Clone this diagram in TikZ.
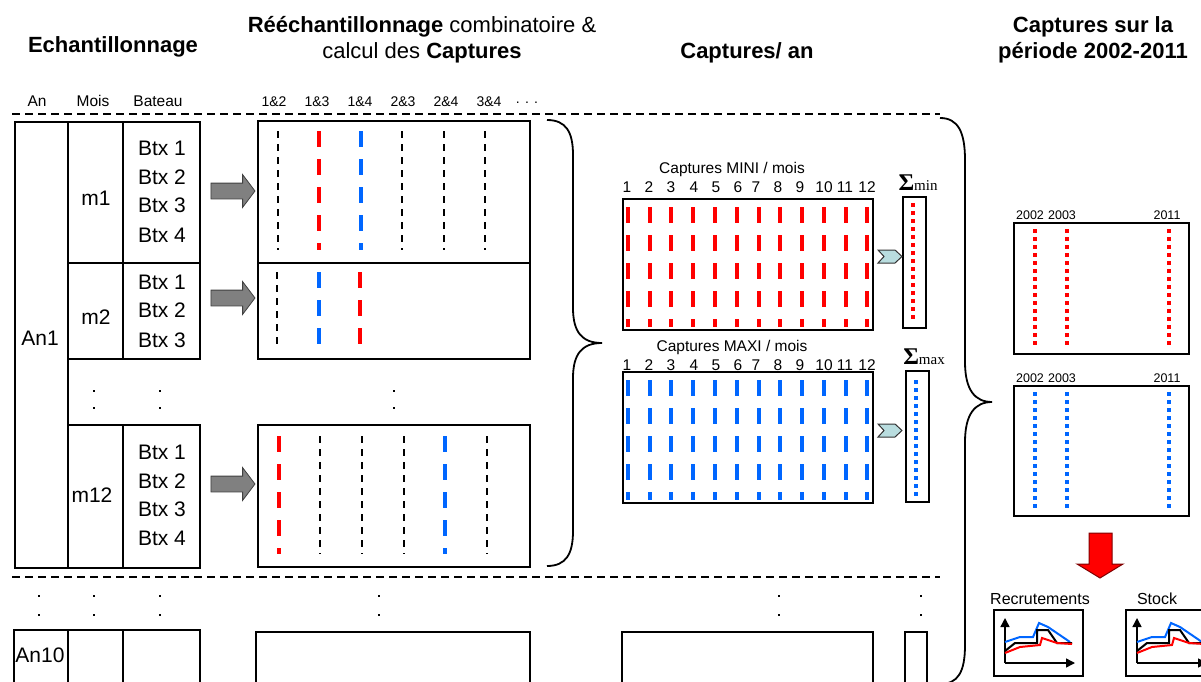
\documentclass[tikz,border=0pt]{standalone}
\usepackage{fontspec}
\setmainfont{Liberation Sans}
\newfontfamily\sigfont{Liberation Serif}
\usetikzlibrary{arrows.meta,shapes.arrows}
\definecolor{myred}{HTML}{FF0000}
\definecolor{myblue}{HTML}{0066FF}
\definecolor{arrgray}{HTML}{808080}
\definecolor{chevfill}{HTML}{B9DDDF}
\definecolor{darkred}{HTML}{7F0000}
\begin{document}
\begin{tikzpicture}[x=1pt,y=-1pt,
  box/.style={draw, line width=1.6pt, inner sep=0pt, anchor=north west},
  lbl/.style={inner sep=0pt, font=\fontsize{21}{21}\selectfont},
  title/.style={inner sep=0pt, align=center, font=\fontsize{22}{26}\selectfont},
  hdr/.style={inner sep=0pt, font=\fontsize{15.5}{15.5}\selectfont},
  combo/.style={inner sep=0pt, font=\fontsize{14}{14}\selectfont},
  small/.style={inner sep=0pt, font=\fontsize{15.5}{15.5}\selectfont},
  yr/.style={inner sep=0pt, font=\fontsize{12.5}{12.5}\selectfont},
  sepline/.style={line width=1.4pt, dash pattern=on 8pt off 5pt},
  kdash/.style={line width=1.4pt, dash pattern=on 7pt off 6pt},
  rdash/.style={line width=4pt, myred, dash pattern=on 16pt off 12pt},
  bdash/.style={line width=4pt, myblue, dash pattern=on 16pt off 12pt},
  rdot/.style={line width=4pt, myred, dash pattern=on 4pt off 4pt},
  bdot/.style={line width=4pt, myblue, dash pattern=on 4pt off 4pt},
  brace/.style={line width=1.8pt},
  grayarrow/.style={single arrow, draw=black!75, fill=arrgray, line width=0.8pt,
     minimum height=44pt, minimum width=32pt, inner sep=7.5pt,
     single arrow head extend=8.5pt, single arrow tip angle=106},
  chev/.style={draw=black!80, fill=chevfill, line width=1pt},
  dotmark/.style={fill=black},
  axis/.style={line width=1.5pt, -{Triangle[length=9pt,width=9pt]}}
]
\useasboundingbox (0,0) rectangle (1201,682);

% ---------- titles ----------
\node[title, font=\fontsize{22}{26}\selectfont\bfseries] (tEch) at (113,47) {Echantillonnage};
\node[title] (tRe) at (422,40) {\textbf{Rééchantillonnage} combinatoire \&\\calcul des \textbf{Captures}};
\node[title, font=\fontsize{22}{26}\selectfont\bfseries] (tCa) at (747,53) {Captures/ an};
\node[title, font=\fontsize{22}{26}\selectfont\bfseries] (tPe) at (1093,40) {Captures sur la\\période 2002-2011};

% ---------- column headers ----------
\node[hdr] (hAn) at (37,101) {An};
\node[hdr] (hMois) at (93,101) {Mois};
\node[hdr] (hBat) at (158,101) {Bateau};
\node[combo] (h12) at (274,102) {1\&2};
\node[combo] (h13) at (317,102) {1\&3};
\node[combo] (h14) at (360,102) {1\&4};
\node[combo] (h23) at (403,102) {2\&3};
\node[combo] (h24) at (446,102) {2\&4};
\node[combo] (h34) at (489,102) {3\&4};
\node[combo] (hdots) at (527,103) {. . .};

% ---------- separators ----------
\coordinate (s1a) at (12,114); \coordinate (s1b) at (940,114);
\coordinate (s2a) at (12,577); \coordinate (s2b) at (940,577);
\draw[sepline] (s1a) -- (s1b);
\draw[sepline] (s2a) -- (s2b);

% ---------- year 1 boxes ----------
\node[box, minimum width=53pt, minimum height=446pt] (an1) at (14,121) {};
\node[box, minimum width=55pt, minimum height=141pt] (m1) at (67,121) {};
\node[box, minimum width=55pt, minimum height=96pt] (m2) at (67,262) {};
\node[box, minimum width=55pt, minimum height=143pt] (m12) at (67,424) {};
\node[box, minimum width=77pt, minimum height=141pt] (b1) at (122,121) {};
\node[box, minimum width=77pt, minimum height=96pt] (b2) at (122,262) {};
\node[box, minimum width=77pt, minimum height=143pt] (b12) at (122,424) {};

\node[lbl] (an1l) at (40,338) {An1};
\node[lbl] (m1l) at (96,198) {m1};
\node[lbl] (m2l) at (96,317) {m2};
\node[lbl] (m12l) at (92,495) {m12};

\foreach \yy/\t [count=\i] in {148/Btx 1,177/Btx 2,205/Btx 3,235/Btx 4}
  \node[lbl] (b1t\i) at (162,\yy) {\t};
\foreach \yy/\t [count=\i] in {282/Btx 1,310/Btx 2,340/Btx 3}
  \node[lbl] (b2t\i) at (162,\yy) {\t};
\foreach \yy/\t [count=\i] in {452/Btx 1,481/Btx 2,509/Btx 3,538/Btx 4}
  \node[lbl] (b12t\i) at (162,\yy) {\t};

% gray arrows
\node[grayarrow] (ga1) at (230,191) {};
\node[grayarrow] (ga2) at (230,298) {};
\node[grayarrow] (ga12) at (230,484) {};

% combination boxes
\node[box, minimum width=272pt, minimum height=142pt] (c1) at (257,120) {};
\node[box, minimum width=272pt, minimum height=96pt] (c2) at (257,262) {};
\node[box, minimum width=272pt, minimum height=142pt] (c12) at (257,424) {};

\draw[kdash] (278,131) -- (278,250);
\draw[rdash] (319,131) -- (319,250);
\draw[bdash] (361,131) -- (361,250);
\draw[kdash] (402,131) -- (402,250);
\draw[kdash] (444,131) -- (444,250);
\draw[kdash] (485,131) -- (485,250);

\draw[kdash] (277,272) -- (277,348);
\draw[bdash] (319,272) -- (319,348);
\draw[rdash] (360,272) -- (360,348);

\draw[rdash] (279,436) -- (279,554);
\draw[kdash] (320,436) -- (320,554);
\draw[kdash] (362,436) -- (362,554);
\draw[kdash] (404,436) -- (404,554);
\draw[bdash] (445,436) -- (445,554);
\draw[kdash] (487,436) -- (487,554);

% vertical ellipsis dots
\foreach \xx in {94,160,394}{
  \fill[dotmark] (\xx-1.2,390) rectangle (\xx+1.2,392.4);
  \fill[dotmark] (\xx-1.2,407) rectangle (\xx+1.2,409.4);
}
\foreach \xx in {39,94,160,379,779,921}{
  \fill[dotmark] (\xx-1.2,595) rectangle (\xx+1.2,597.4);
  \fill[dotmark] (\xx-1.2,614) rectangle (\xx+1.2,616.4);
}

% left brace
\draw[brace] (547,120) .. controls (566,120) and (573,132) .. (573,155) -- (573,308)
  .. controls (573,332) and (582,343) .. (602,343)
  .. controls (582,343) and (573,354) .. (573,378) -- (573,531)
  .. controls (573,554) and (566,566) .. (547,566);

% ---------- captures per year ----------
\node[small] (miniT) at (732,169) {Captures MINI / mois};
\node[small] (maxiT) at (732,347) {Captures MAXI / mois};
\foreach \xx [count=\i] in {627,649,671,694,716,738,756,778,800,824,845,867}{
  \node[small] (mn\i) at (\xx,187) {\i};
  \node[small] (mx\i) at (\xx,365) {\i};
}
\node[box, minimum width=250pt, minimum height=131pt] (mini) at (622,198) {};
\node[box, minimum width=250pt, minimum height=131pt] (maxi) at (622,371) {};
\foreach \xx in {628,650,671,693,715,737,759,780,802,824,846,867}{
  \draw[rdash] (\xx,207) -- (\xx,327);
  \draw[bdash] (\xx,380) -- (\xx,500);
}

\node[box, minimum width=23pt, minimum height=131pt] (smin) at (902,196) {};
\node[box, minimum width=23pt, minimum height=131pt] (smax) at (905,370) {};
\draw[rdot] (913,203) -- (913,320);
\draw[bdot] (916,380) -- (916,497);
\node[inner sep=0pt] (sminT) at (918,183) {\sigfont{\fontsize{24}{24}\selectfont\bfseries Σ}{\fontsize{15}{15}\selectfont min}};
\node[inner sep=0pt] (smaxT) at (924,357) {\sigfont{\fontsize{24}{24}\selectfont\bfseries Σ}{\fontsize{15}{15}\selectfont max}};

% chevrons
\draw[chev] (878,250) -- (895,250) -- (902,256.5) -- (895,263) -- (878,263) -- (884,256.5) -- cycle;
\draw[chev] (878,424) -- (895,424) -- (902,430.5) -- (895,437) -- (878,437) -- (884,430.5) -- cycle;

% right brace
\draw[brace] (940,118) .. controls (958,118) and (965,132) .. (965,160) -- (965,362)
  .. controls (965,390) and (975,402) .. (992,402)
  .. controls (975,402) and (965,414) .. (965,442) -- (965,645)
  .. controls (965,672) and (958,684) .. (940,684);

% ---------- period boxes ----------
\node[box, minimum width=175pt, minimum height=131pt] (pmin) at (1013,222) {};
\node[box, minimum width=175pt, minimum height=130pt] (pmax) at (1013,385) {};
\foreach \xx/\t in {1030/2002,1062/2003,1167/2011}{
  \node[yr] at (\xx,215) {\t};
  \node[yr] at (\xx,378) {\t};
}
\foreach \xx in {1035,1067,1169}{
  \draw[rdot] (\xx,229) -- (\xx,347);
  \draw[bdot] (\xx,392) -- (\xx,510);
}

% red arrow
\draw[draw=darkred, fill=myred, line width=1pt] (1089,533) -- (1112,533) -- (1112,564) -- (1123,564)
  -- (1100,578) -- (1077,564) -- (1089,564) -- cycle;

% ---------- charts ----------
\node[inner sep=0pt, font=\fontsize{16}{16}\selectfont] (recT) at (1040,599) {Recrutements};
\node[inner sep=0pt, font=\fontsize{16}{16}\selectfont] (stoT) at (1157,599) {Stock};
\node[box, minimum width=89pt, minimum height=66pt] (ch1) at (993,609) {};
\node[box, minimum width=89pt, minimum height=66pt] (ch2) at (1125,609) {};
\foreach \dx in {0,132}{
\begin{scope}[shift={(\dx,0)}]
  \draw[axis] (1005,663) -- (1005,618);
  \draw[axis] (1005,663) -- (1075,663);
  \draw[myblue, line width=2pt] (1005,642) -- (1020,637) -- (1033,637) -- (1039,623) -- (1048,627) -- (1070,642);
  \draw[black, line width=2pt] (1005,651) -- (1015,643) -- (1037,643) -- (1037,630) -- (1048,630) -- (1057,643) -- (1072,643);
  \draw[myred, line width=2pt] (1005,653) -- (1020,647) -- (1040,645) -- (1042,638) -- (1057,643) -- (1072,644);
\end{scope}}

% ---------- year 10 ----------
\node[box, minimum width=54pt, minimum height=70pt] (an10) at (13,629) {};
\node[box, minimum width=55pt, minimum height=70pt] (m10) at (67,629) {};
\node[box, minimum width=77pt, minimum height=70pt] (b10) at (122,629) {};
\node[box, minimum width=274pt, minimum height=70pt] (c10) at (255,631) {};
\node[box, minimum width=251pt, minimum height=70pt] (mini10) at (621,631) {};
\node[box, minimum width=22pt, minimum height=70pt] (s10) at (904,631) {};
\node[lbl] (an10l) at (40,655) {An10};
\end{tikzpicture}
\end{document}
